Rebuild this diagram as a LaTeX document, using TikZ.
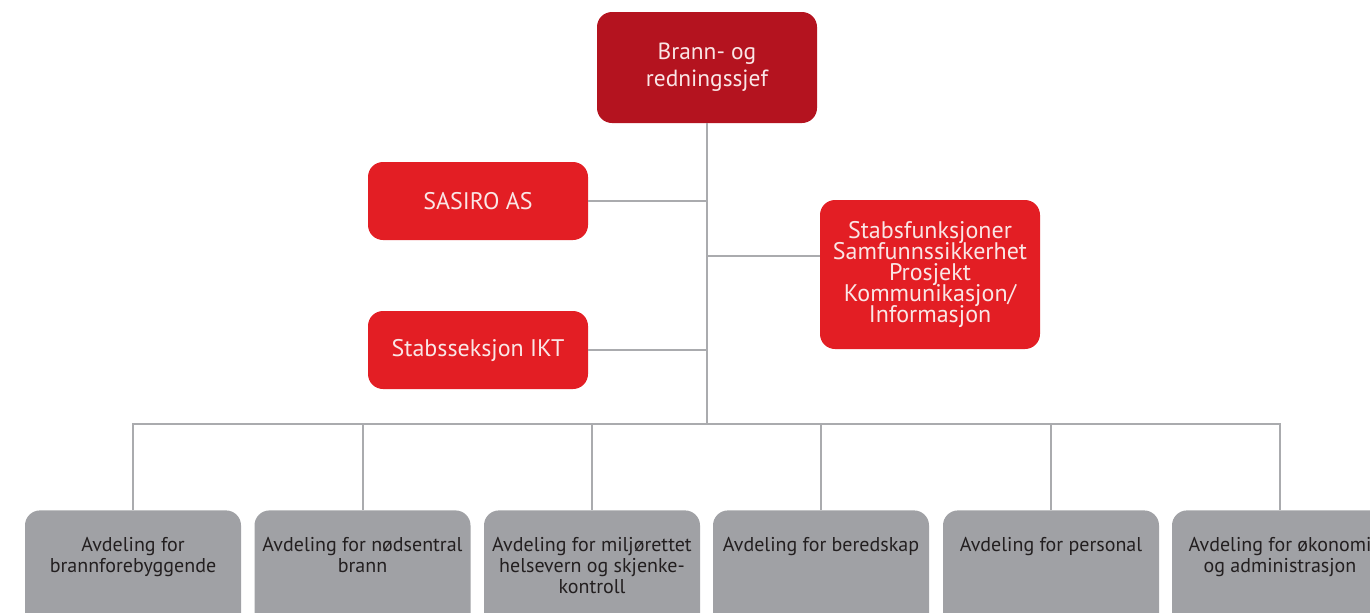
\documentclass[tikz,border=0pt]{standalone}
\usepackage{fontspec}
\setmainfont{PT Sans}
\usepackage{tikz}
\usetikzlibrary{positioning}
\usepackage{xcolor}
\definecolor{darkred}{RGB}{180,19,31}
\definecolor{boxred}{RGB}{227,30,36}
\definecolor{boxgray}{RGB}{160,161,165}
\definecolor{linegray}{RGB}{170,171,174}
\definecolor{palepink}{RGB}{250,230,230}
\definecolor{darktext}{RGB}{35,31,32}
\newcommand{\redfont}{\fontsize{12}{10.5}\selectfont\lineskiplimit=-5pt\relax}
\tikzset{chiefbox/.style={rectangle, rounded corners=7.5pt, fill=darkred, text=palepink, minimum width=110pt, minimum height=55.5pt, align=center, font=\fontsize{11.7}{13.5}\selectfont},redbox/.style={rectangle, rounded corners=7.5pt, fill=boxred, text=palepink, minimum width=110pt, align=center, font=\redfont}}
\tikzset{deptbox/.style={rectangle, rounded corners=7.5pt, fill=boxgray, text=darktext, inner sep=0pt, anchor=north, font=\fontsize{10}{10.5}\selectfont},orgline/.style={draw=linegray, line width=1pt}}
\newcommand{\deptlabel}[1]{\parbox[c][70pt][t]{108pt}{\centering\vspace{13.5pt}#1}}

\begin{document}
\begin{tikzpicture}[x=0.5pt, y=-0.5pt]
        \useasboundingbox (0,0) rectangle (1370,612);
        \clip (0,0) rectangle (1370,612);
        % Top
        \node[chiefbox] (chief) at (707,67.5) {Brann- og\\redningssjef};
        % Staff
        \node[redbox, minimum height=39pt] (sasiro) at (478,201) {SASIRO AS};
        \node[redbox, minimum height=39pt] (ikt) at (478,350) {Stabsseksjon IKT};
        \node[redbox, minimum height=74.5pt] (stab) at (930,274.5) {Stabsfunksjoner\\Samfunnssikkerhet\\Prosjekt\\Kommunikasjon/\\Informasjon};
        % Lines
        \coordinate (bus) at (707,424);
        \coordinate (stabjoin) at (707,256);
        \draw[orgline] (chief.south) -- (bus);
        \draw[orgline] (sasiro.east) -- (sasiro.east -| chief.south);
        \draw[orgline] (ikt.east) -- (ikt.east -| chief.south);
        \draw[orgline] (stabjoin) -- (stabjoin -| stab.west);
        % Departments
        \foreach \x/\name/\txt in {
            133/brann/{Avdeling for\\brannforebyggende},
            362.5/nod/{Avdeling for nødsentral\\brann},
            592/miljo/{Avdeling for miljørettet\\helsevern og skjenke-\\kontroll},
            821/bered/{Avdeling for beredskap},
            1051/pers/{Avdeling for personal},
            1280/okon/{Avdeling for økonomi\\og administrasjon}} {
            \node[deptbox] (\name) at (\x,510) {\deptlabel{\txt}};
            \draw[orgline] (bus) -| (\name.north);
        }
    \end{tikzpicture}
\end{document}
